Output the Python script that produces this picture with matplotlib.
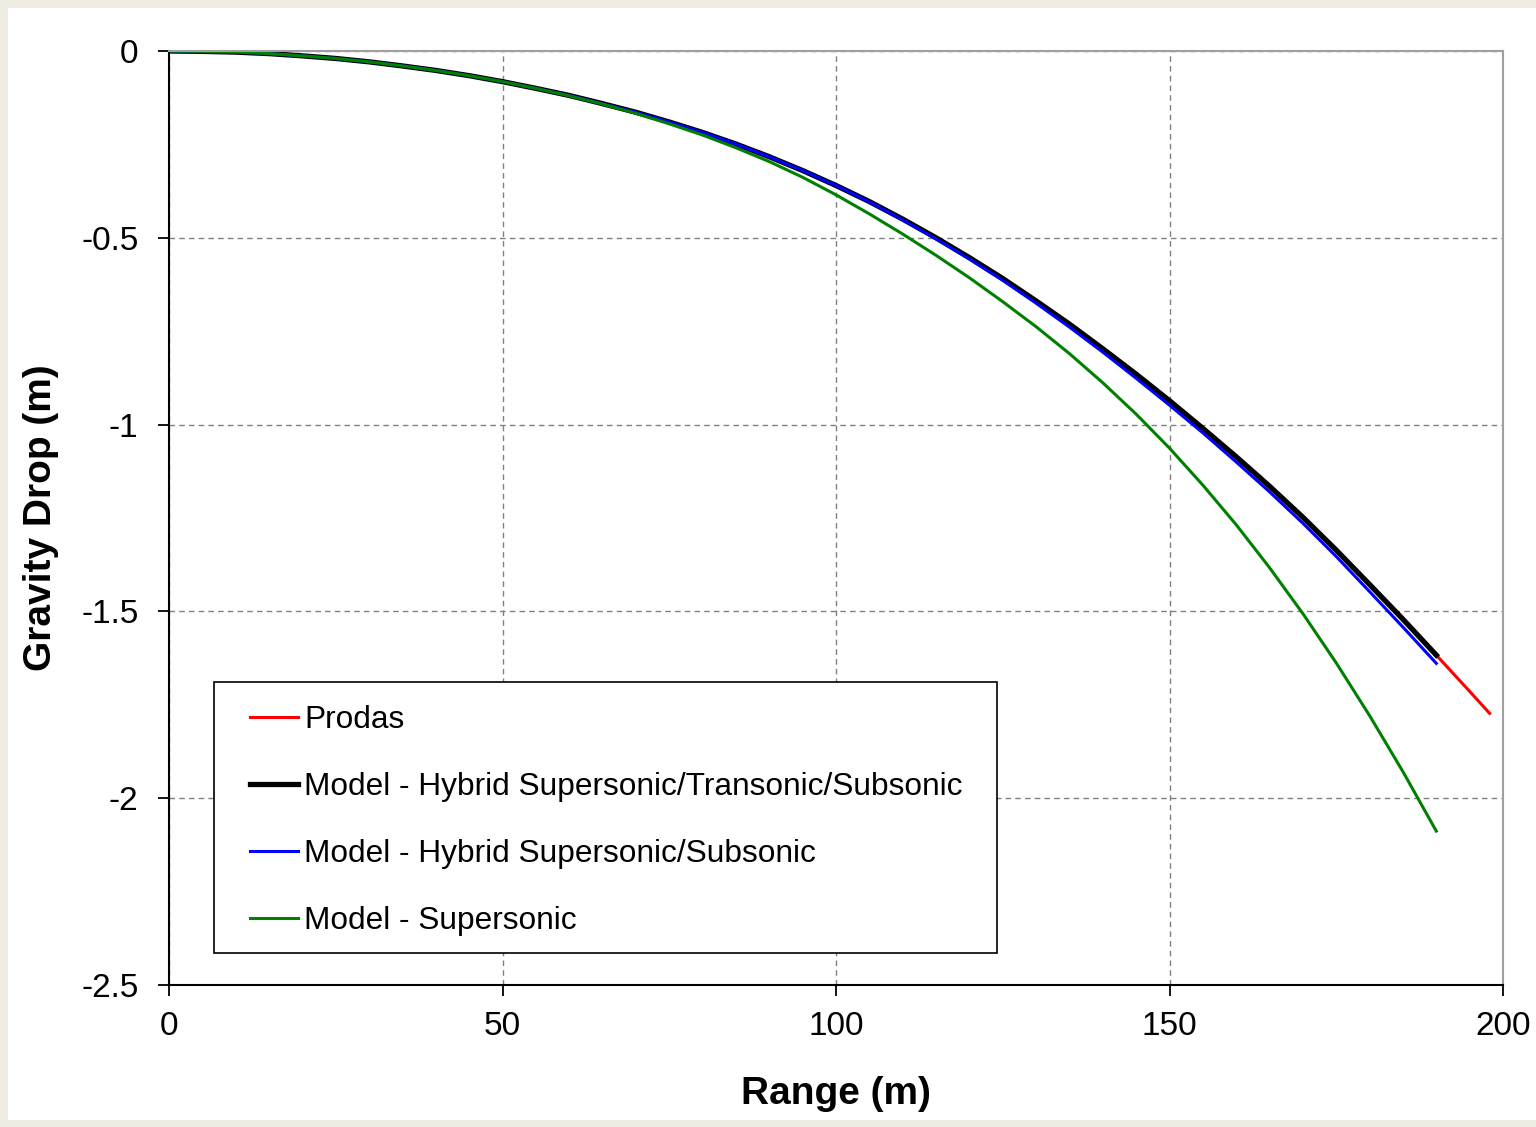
import matplotlib
matplotlib.use("Agg")
from matplotlib import pyplot as plt
from matplotlib.patches import Rectangle

plt.rcParams["font.family"] = ["Liberation Sans", "DejaVu Sans"]

# range (m), read every 5 m
range_m = [0, 5, 10, 15, 20, 25, 30, 35, 40, 45, 50, 55, 60, 65, 70, 75, 80, 85, 90, 95,
           100, 105, 110, 115, 120, 125, 130, 135, 140, 145, 150, 155, 160, 165, 170, 175,
           180, 185, 190]
range_prodas = range_m + [195, 198]

# gravity drop (m)
drop_hybrid_sts = [0, -0.001, -0.003, -0.007, -0.013, -0.020, -0.029, -0.040, -0.052, -0.066,
                   -0.082, -0.100, -0.119, -0.141, -0.164, -0.190, -0.218, -0.249, -0.283, -0.320,
                   -0.360, -0.403, -0.450, -0.500, -0.553, -0.609, -0.669, -0.731, -0.797, -0.865,
                   -0.936, -1.010, -1.086, -1.165, -1.248, -1.336, -1.428, -1.521, -1.617]
drop_prodas = drop_hybrid_sts + [-1.714, -1.773]
drop_hybrid_ss = [0, -0.001, -0.003, -0.007, -0.013, -0.020, -0.029, -0.040, -0.052, -0.066,
                  -0.082, -0.100, -0.119, -0.141, -0.164, -0.190, -0.218, -0.249, -0.283, -0.320,
                  -0.360, -0.404, -0.452, -0.503, -0.557, -0.614, -0.675, -0.739, -0.806, -0.876,
                  -0.948, -1.022, -1.100, -1.180, -1.264, -1.353, -1.447, -1.542, -1.639]
drop_super = [0, -0.001, -0.003, -0.007, -0.013, -0.020, -0.029, -0.040, -0.052, -0.066,
              -0.082, -0.100, -0.120, -0.142, -0.167, -0.195, -0.225, -0.259, -0.296, -0.338,
              -0.385, -0.436, -0.490, -0.547, -0.607, -0.671, -0.738, -0.810, -0.888, -0.972,
              -1.063, -1.162, -1.268, -1.383, -1.506, -1.638, -1.779, -1.929, -2.088]

xticks = [0, 50, 100, 150, 200]
yticks = [0, -0.5, -1, -1.5, -2, -2.5]
ytick_labels = ["0", "-0.5", "-1", "-1.5", "-2", "-2.5"]

W, H = 1536, 1127
fig = plt.figure(figsize=(W / 100, H / 100), dpi=100, facecolor="#EEECE1")
fig.patches.append(Rectangle((8 / W, 7 / H), 1 - 8 / W, 1 - 15 / H,
                             transform=fig.transFigure, facecolor="white",
                             edgecolor="none", zorder=-10))

ax = fig.add_axes([169 / W, 1 - 985 / H, 1334 / W, 934 / H])

ax.plot(range_prodas, drop_prodas, color="#FF0000", lw=2.2, label="Prodas")
ax.plot(range_m, drop_hybrid_sts, color="black", lw=3.8,
        label="Model - Hybrid Supersonic/Transonic/Subsonic")
ax.plot(range_m, drop_hybrid_ss, color="#0000FF", lw=2.2,
        label="Model - Hybrid Supersonic/Subsonic")
ax.plot(range_m, drop_super, color="#008000", lw=2.2, label="Model - Supersonic")

ax.set_xlim(0, 200)
ax.set_ylim(-2.5, 0)
ax.set_xticks(xticks)
ax.set_yticks(yticks)
ax.set_yticklabels(ytick_labels)
ax.tick_params(axis="both", direction="out", length=8, width=1.3, labelsize=24, color="black")
ax.tick_params(axis="y", pad=14)
ax.tick_params(axis="x", pad=11)

ax.grid(True, color="#808080", linestyle=(0, (4, 3)), linewidth=1.0)
ax.set_axisbelow(True)

for side in ["left", "bottom"]:
    ax.spines[side].set_color("black")
    ax.spines[side].set_linewidth(1.5)
for side in ["top", "right"]:
    ax.spines[side].set_color("#A0A0A0")
    ax.spines[side].set_linewidth(1.5)

ax.set_xlabel("Range (m)", fontsize=28, fontweight="bold", labelpad=24)
ax.set_ylabel("Gravity Drop (m)", fontsize=28, fontweight="bold", labelpad=16)

# legend box drawn by hand so the side padding matches
box_x0, box_y0 = (214 - 169) / 1334, (985 - 953) / 934
box_x1, box_y1 = (997 - 169) / 1334, (985 - 682) / 934
ax.add_patch(Rectangle((box_x0, box_y0), box_x1 - box_x0, box_y1 - box_y0,
                       transform=ax.transAxes, facecolor="white", edgecolor="black",
                       linewidth=1.2, zorder=4))

leg = ax.legend(loc="upper left", bbox_to_anchor=((250 - 169) / 1334, (985 - 705) / 934),
                borderaxespad=0, borderpad=0, fontsize=22.8, frameon=False,
                handlelength=1.52, handletextpad=0.2, labelspacing=1.17)
leg.set_zorder(5)

fig.savefig("out.png", dpi=100, facecolor=fig.get_facecolor())
